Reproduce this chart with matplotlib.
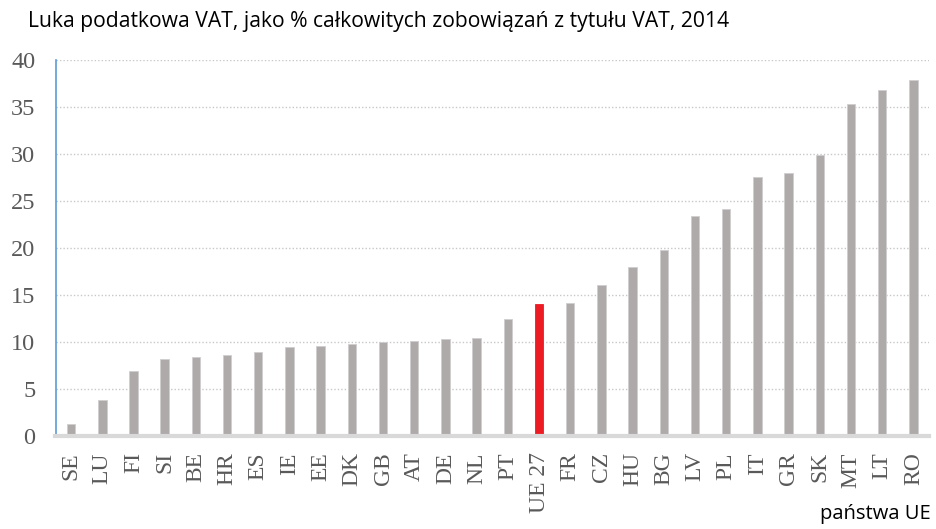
import matplotlib
matplotlib.use("Agg")
import matplotlib.pyplot as plt
import numpy as np

countries = ["SE", "LU", "FI", "SI", "BE", "HR", "ES", "IE", "EE", "DK", "GB", "AT", "DE", "NL",
             "PT", "UE 27", "FR", "CZ", "HU", "BG", "LV", "PL", "IT", "GR", "SK", "MT", "LT", "RO"]
vat_gap = [1.2, 3.8, 6.9, 8.1, 8.4, 8.6, 8.9, 9.4, 9.5, 9.7, 10.0, 10.1, 10.3, 10.4,
           12.4, 14.0, 14.1, 16.0, 17.9, 19.8, 23.4, 24.1, 27.5, 28.0, 29.9, 35.3, 36.8, 37.9]
yticks = [0, 5, 10, 15, 20, 25, 30, 35, 40]
title = "Luka podatkowa VAT, jako % całkowitych zobowiązań z tytułu VAT, 2014"
xlabel = "państwa UE"

W, H = 936, 529
fig = plt.figure(figsize=(W / 100, H / 100), dpi=100)
ax = fig.add_axes([55.5 / W, 1 - 435.5 / H, (929 - 55.5) / W, (435.5 - 60) / H])

x = np.arange(len(countries))
colors = ["#ED1C24" if c == "UE 27" else "#AEAAAA" for c in countries]
edges = ["#ED1C24" if c == "UE 27" else "#D0CECE" for c in countries]
ax.bar(x, vat_gap, width=0.27, color=colors, edgecolor=edges, linewidth=0.6, zorder=3)

ax.set_xlim(-0.5, len(countries) - 0.5)
ax.set_ylim(0, 40)
ax.set_yticks(yticks)
ax.set_yticklabels([str(t) for t in yticks], fontfamily="Liberation Serif", fontsize=17.5, color="#595959")
ax.set_xticks(x)
ax.set_xticklabels(countries, rotation=90, fontfamily="Liberation Serif", fontsize=17, color="#595959")
ax.tick_params(axis="y", length=0, pad=14.5)
ax.tick_params(axis="x", length=0, pad=12)

ax.grid(axis="y", linestyle=(0, (1, 1.5)), color="#C8C8C8", linewidth=1, zorder=0)
for s in ["top", "right"]:
    ax.spines[s].set_visible(False)
ax.spines["left"].set_color("#5B9BD5")
ax.spines["left"].set_linewidth(1.2)
ax.spines["bottom"].set_color("#D9D9D9")
ax.spines["bottom"].set_linewidth(3)
ax.spines["bottom"].set_zorder(4)

fig.text(28 / W, 1 - 22 / H, title, fontfamily="Open Sans", fontsize=15.2, color="#000000",
         ha="left", va="center")
fig.text(931 / W, 1 - 514 / H, xlabel, fontfamily="Open Sans", fontsize=14.5, color="#000000",
         ha="right", va="center")

fig.savefig("out.png", dpi=100)
